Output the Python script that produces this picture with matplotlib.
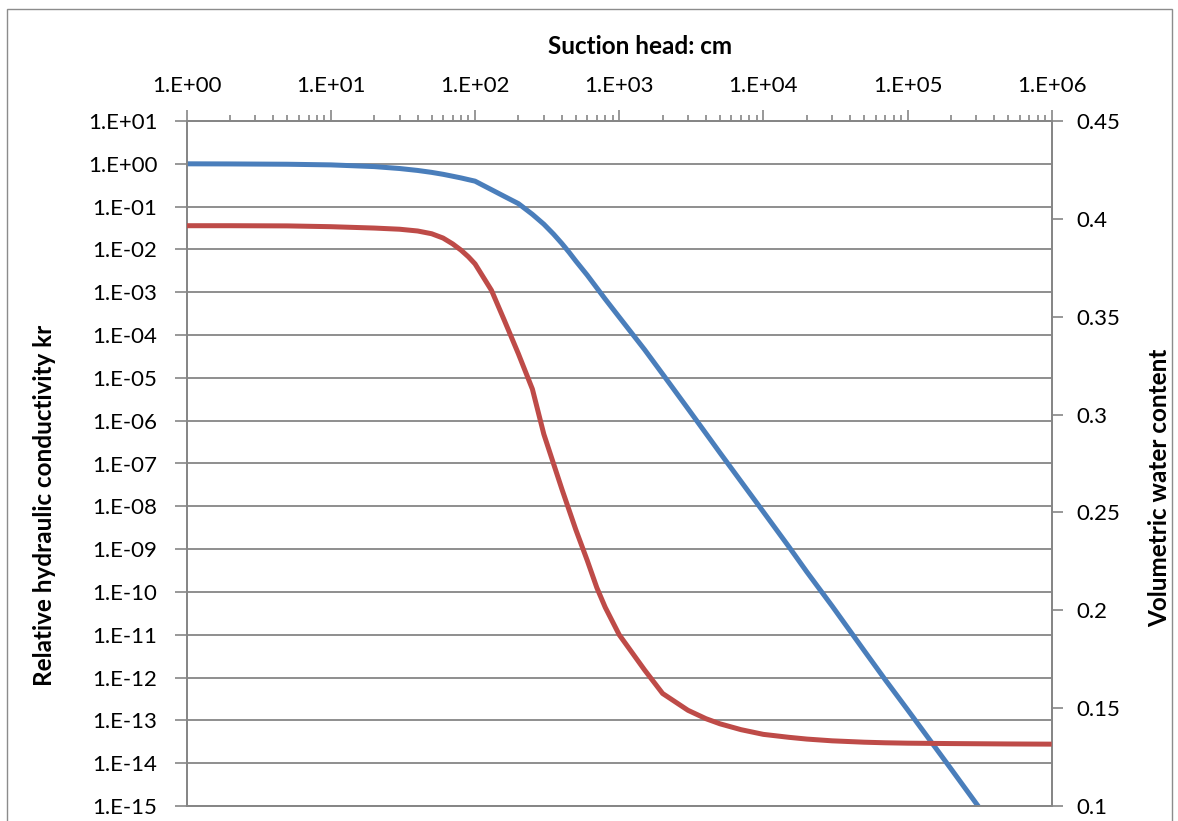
import matplotlib
matplotlib.use("Agg")
import matplotlib.pyplot as plt
from matplotlib.patches import Rectangle
from matplotlib.ticker import FixedLocator, FuncFormatter, LogLocator, NullFormatter
import numpy as np

plt.rcParams['font.family'] = ['Lato', 'DejaVu Sans']

# Suction head (cm)
suction_head = [1, 2, 5, 10, 20, 30, 40, 50, 60, 70, 80, 90, 100, 130, 160, 200, 250, 300,
                350, 400, 450, 500, 600, 700, 800, 1000, 1500, 2000, 3000, 4000, 5000, 7000,
                1e4, 1.5e4, 2e4, 3e4, 5e4, 7e4, 1e5, 2e5, 5e5, 1e6]

# log10 of relative hydraulic conductivity kr
log_kr = [0.0, -0.003, -0.01, -0.025, -0.065, -0.11, -0.155, -0.2, -0.245, -0.29, -0.33,
          -0.37, -0.405, -0.604, -0.762, -0.93, -1.18, -1.41, -1.64, -1.86, -2.07, -2.27,
          -2.6, -2.9, -3.16, -3.58, -4.34, -4.91, -5.72, -6.3, -6.75, -7.42, -8.13, -8.94,
          -9.53, -10.33, -11.37, -12.05, -12.75, -14.13, -15.97, -17.35]

# Volumetric water content
theta = [0.3965, 0.3965, 0.3964, 0.3960, 0.3953, 0.3947, 0.3938, 0.3924, 0.3902, 0.3872,
         0.3840, 0.3806, 0.3770, 0.3635, 0.3480, 0.3310, 0.3130, 0.2900, 0.2750, 0.2620,
         0.2510, 0.2412, 0.2255, 0.2115, 0.2015, 0.1875, 0.1695, 0.1575, 0.1489, 0.1446,
         0.1420, 0.1390, 0.1366, 0.1351, 0.1342, 0.1333, 0.1326, 0.1323, 0.1321, 0.1319,
         0.1317, 0.1316]

left_decades = list(range(-15, 2))
right_ticks = [0.1, 0.15, 0.2, 0.25, 0.3, 0.35, 0.4, 0.45]
x_decades = list(range(0, 7))

W, H = 1178, 821
fig = plt.figure(figsize=(W / 100, H / 100), dpi=100)
fig.patch.set_facecolor('white')

L, R, T, B = 186.7, 1051.7, 121.0, 806.0
ax = fig.add_axes([L / W, 1 - B / H, (R - L) / W, (B - T) / H])
ax2 = ax.twinx()

grey = '#868686'
blue = '#4A7EBB'
red = '#BE4B48'

kr = [10.0 ** v for v in log_kr]
ax.plot(suction_head, kr, color=blue, lw=3.6, solid_capstyle='butt',
        solid_joinstyle='round', zorder=3)
ax2.plot(suction_head, theta, color=red, lw=3.6, solid_capstyle='butt',
         solid_joinstyle='round', zorder=3)

ax.set_xscale('log')
ax.set_yscale('log')
ax.set_xlim(1, 1e6)
ax.set_ylim(1e-15, 10)
ax2.set_ylim(0.1, 0.45)

# x axis along the top
ax.xaxis.tick_top()
ax.xaxis.set_label_position('top')
ax.xaxis.set_major_locator(FixedLocator([10.0 ** d for d in x_decades]))
ax.xaxis.set_minor_locator(LogLocator(base=10, subs=np.arange(2, 10), numticks=20))
ax.xaxis.set_minor_formatter(NullFormatter())
ax.xaxis.set_major_formatter(FuncFormatter(lambda v, p: f"1.E{int(round(np.log10(v))):+03d}"))
ax.tick_params(axis='x', which='major', direction='out', length=8, width=1.2, color=grey,
               pad=10, labelsize=16)
ax.tick_params(axis='x', which='minor', direction='out', length=4, width=1.2, color=grey)

ax.yaxis.set_major_locator(FixedLocator([10.0 ** d for d in left_decades]))
ax.yaxis.set_minor_locator(FixedLocator([]))
ax.yaxis.set_major_formatter(FuncFormatter(lambda v, p: f"1.E{int(round(np.log10(v))):+03d}"))
ax.tick_params(axis='y', which='major', direction='out', length=9, width=1.2, color=grey,
               pad=12, labelsize=16)

ax2.yaxis.set_major_locator(FixedLocator(right_ticks))
ax2.yaxis.set_major_formatter(FuncFormatter(lambda v, p: f"{round(v, 2):g}"))
ax2.tick_params(axis='y', which='major', direction='out', length=8, width=1.2, color=grey,
                pad=10, labelsize=16)

ax.grid(True, axis='y', which='major', color=grey, lw=1.3)
ax.set_axisbelow(True)

for a in (ax, ax2):
    for s in a.spines.values():
        s.set_color(grey)
        s.set_linewidth(1.3)

fig.text(640 / W, 1 - 47 / H, "Suction head: cm", ha='center', va='center',
         fontsize=17.5, fontweight='bold')
fig.text(45 / W, 1 - 505 / H, "Relative hydraulic conductivity kr", ha='center', va='center',
         rotation=90, fontsize=17.5, fontweight='bold')
fig.text(1160 / W, 1 - 488 / H, "Volumetric water content", ha='center', va='center',
         rotation=90, fontsize=17.5, fontweight='bold')

# chart frame
fig.patches.append(Rectangle((7 / W, -0.1), (1172 - 7) / W, 1.1 - 9 / H,
                             transform=fig.transFigure, fill=False, edgecolor='#8c8c8c',
                             lw=1.0))

fig.savefig('out.png', dpi=100, facecolor='white')
